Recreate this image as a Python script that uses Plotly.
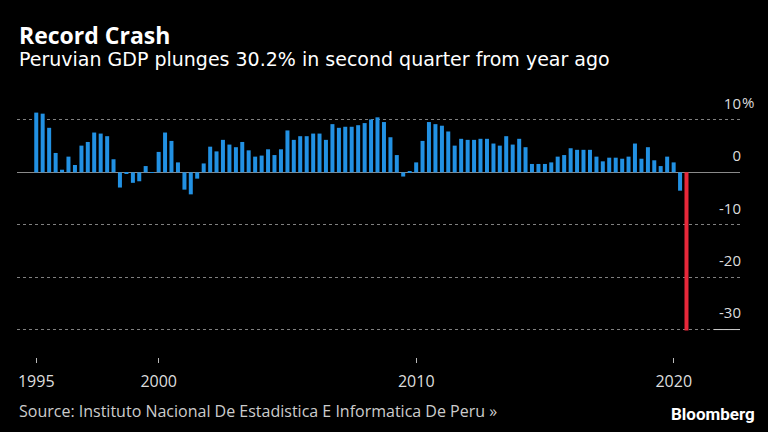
import pandas as pd
import plotly.graph_objects as go

# ---- data -------------------------------------------------------------
quarters = pd.period_range("1995Q1", "2020Q2", freq="Q")
gdp_yoy = [
    11.4, 11.2, 8.5, 3.7,     # 1995
    0.5, 3.0, 1.4, 5.1,       # 1996
    5.8, 7.6, 7.4, 6.9,       # 1997
    2.5, -2.9, -0.3, -2.0,    # 1998
    -1.7, 1.2, -0.1, 3.9,     # 1999
    7.6, 6.0, 1.9, -3.3,      # 2000
    -4.2, -1.2, 1.7, 4.9,     # 2001
    4.0, 6.2, 5.3, 4.8,       # 2002
    5.8, 4.2, 3.0, 3.2,       # 2003
    4.4, 3.3, 4.4, 8.0,       # 2004
    6.2, 6.9, 6.9, 7.4,       # 2005
    7.4, 6.2, 9.2, 8.5,       # 2006
    8.7, 8.7, 9.0, 9.4,       # 2007
    10.1, 10.5, 9.6, 6.7,     # 2008
    3.3, -0.8, 0.2, 1.9,      # 2009
    6.0, 9.6, 9.2, 8.9,       # 2010
    7.8, 5.1, 6.4, 6.2,       # 2011
    6.2, 6.4, 6.4, 5.5,       # 2012
    5.1, 6.9, 5.3, 6.4,       # 2013
    4.8, 1.6, 1.6, 1.6,       # 2014
    1.9, 3.0, 3.3, 4.6,       # 2015
    4.3, 4.3, 4.3, 3.0,       # 2016
    2.1, 2.8, 2.8, 2.6,       # 2017
    3.0, 5.5, 2.6, 4.8,       # 2018
    2.3, 1.2, 3.0, 1.9,       # 2019
    -3.5, -30.2,              # 2020
]
x_tick_labels = ["1995", "2000", "2010", "2020"]
y_tick_values = [10, 0, -10, -20, -30]
y_tick_labels = ["10", "0", "-10", "-20", "-30"]

# ---- figure -----------------------------------------------------------
dates = quarters.end_time.normalize()
BLUE = "#2291e3"
RED = "#e8283a"
colors = [BLUE] * (len(gdp_yoy) - 1) + [RED]

fig = go.Figure(
    go.Bar(x=dates, y=gdp_yoy, marker=dict(color=colors, line=dict(width=0)),
           hoverinfo="x+y")
)

tick_dates = [dates[0], pd.Timestamp("2000-01-01"), pd.Timestamp("2010-01-01"),
              pd.Timestamp("2020-01-01")]

TOP, BOTTOM = 85, 357
H = BOTTOM - TOP


def py(px):
    """paper y coordinate for a pixel row"""
    return (BOTTOM - px) / H


fig.update_layout(
    width=768, height=432,
    paper_bgcolor="#000000", plot_bgcolor="#000000",
    margin=dict(l=17, r=28, t=TOP, b=432 - BOTTOM),
    bargap=0.37,
    showlegend=False,
    font=dict(family="Open Sans, Noto Sans, sans-serif", color="#dddddd"),
    xaxis=dict(
        type="date",
        range=["1994-07-01", "2022-07-29"],
        tickvals=tick_dates, ticktext=x_tick_labels,
        ticks="outside", ticklen=5, tickwidth=1, tickcolor="#bbbbbb",
        ticklabelstandoff=5,
        showgrid=False, showline=False, zeroline=False,
        tickfont=dict(size=16, color="#dddddd"),
    ),
    yaxis=dict(
        side="right",
        range=[-35.24, 16.67],
        tickvals=y_tick_values, ticktext=y_tick_labels,
        ticklabelposition="inside top",
        ticklabelshift=-6, ticklabelstandoff=-4,
        ticks="",
        showgrid=True, gridcolor="#808080", griddash="dot", gridwidth=1,
        zeroline=True, zerolinecolor="#8a8a8a", zerolinewidth=1,
        showline=False,
        tickfont=dict(size=15, color="#dddddd"),
    ),
    shapes=[
        dict(type="line", xref="paper", yref="y", x0=0.964, x1=1.0, y0=-30, y1=-30,
             line=dict(color="#cccccc", width=1)),
    ],
    annotations=[
        dict(text="<b>Record Crash</b>", xref="paper", yref="paper",
             x=0, y=py(35), xanchor="left", yanchor="middle",
             showarrow=False,
             font=dict(family="Open Sans, sans-serif", size=23, color="#ffffff")),
        dict(text="Peruvian GDP plunges 30.2% in second quarter from year ago",
             xref="paper", yref="paper",
             x=0, y=py(59), xanchor="left", yanchor="middle",
             showarrow=False,
             font=dict(family="DejaVu Sans, sans-serif", size=19, color="#ffffff")),
        dict(text="Source: Instituto Nacional De Estadistica E Informatica De Peru \u00bb",
             xref="paper", yref="paper",
             x=0, y=py(411), xanchor="left", yanchor="middle",
             showarrow=False,
             font=dict(family="Open Sans, sans-serif", size=16, color="#cccccc")),
        dict(text="<b>Bloomberg</b>", xref="paper", yref="paper",
             x=1 + 17 / 723, y=py(414), xanchor="right", yanchor="middle",
             showarrow=False,
             font=dict(family="Roboto, sans-serif", size=17, color="#ffffff")),
        dict(text="%", xref="paper", yref="y", x=1.0, y=10,
             xanchor="left", yanchor="bottom", yshift=6, xshift=0,
             showarrow=False, font=dict(size=15, color="#dddddd")),
    ],
)

fig.write_html(
    "out.html",
    config={"displayModeBar": False},
    post_script="document.body.style.margin='0';document.body.style.background='#000';",
)
